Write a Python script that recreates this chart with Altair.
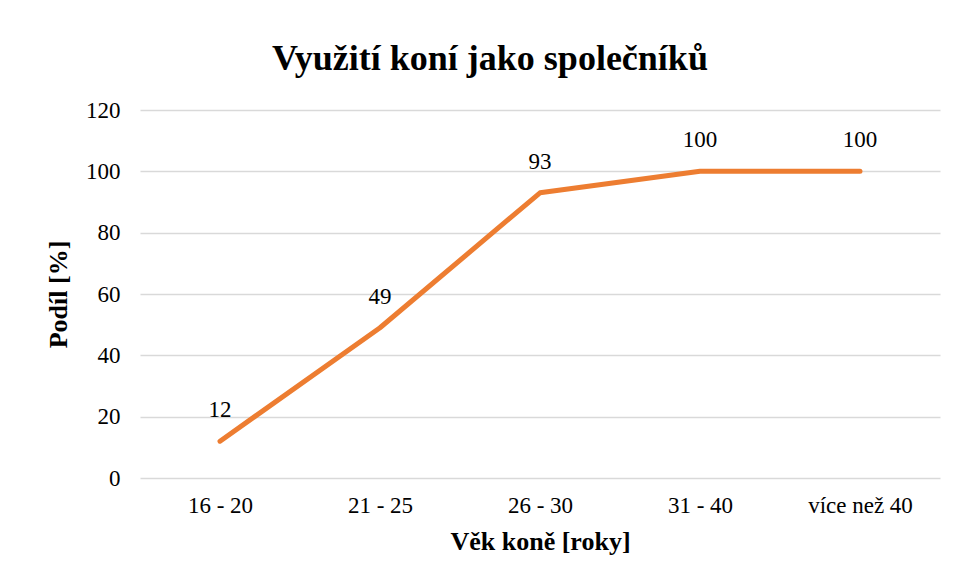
import altair as alt
import pandas as pd

categories = ["16 - 20", "21 - 25", "26 - 30", "31 - 40", "více než 40"]
values = [12, 49, 93, 100, 100]

df = pd.DataFrame({"vek": categories, "podil": values})

FONT = "Liberation Serif"
ORANGE = "#ED7D31"

x = alt.X("vek:N", sort=categories,
          scale=alt.Scale(type="point", padding=0.5),
          axis=alt.Axis(title="Věk koně [roky]", labelAngle=0, grid=False,
                        domain=False, ticks=False, labelPadding=16,
                        titlePadding=11))
y = alt.Y("podil:Q", scale=alt.Scale(domain=[0, 120], nice=False),
          axis=alt.Axis(title="Podíl [%]", values=[0, 20, 40, 60, 80, 100, 120],
                        domain=False, ticks=False, labelPadding=20,
                        gridColor="#D9D9D9", gridWidth=1.5, titlePadding=14))

line = alt.Chart(df).mark_line(color=ORANGE, strokeWidth=5, strokeCap="round",
                               strokeJoin="round").encode(x=x, y=y)
labels = alt.Chart(df).mark_text(dy=-31, font=FONT, fontSize=23, color="#000000").encode(
    x=x, y=y, text="podil:Q")

chart = (line + labels).properties(
    width=800, height=368,
    autosize=alt.AutoSizeParams(type="none"),
    padding={"left": 132, "top": 102, "right": 8, "bottom": 95},
    background="#FFFFFF",
    title=alt.TitleParams("Využití koní jako společníků", font=FONT, fontSize=36,
                          fontWeight="bold", color="#000000", dx=-50, offset=21),
).configure_view(stroke=None).configure_axis(
    labelFont=FONT, labelFontSize=23, labelColor="#000000",
    titleFont=FONT, titleFontSize=26, titleFontWeight="bold", titleColor="#000000",
)

chart.save("out.html", embed_options={"renderer": "svg", "actions": False})
